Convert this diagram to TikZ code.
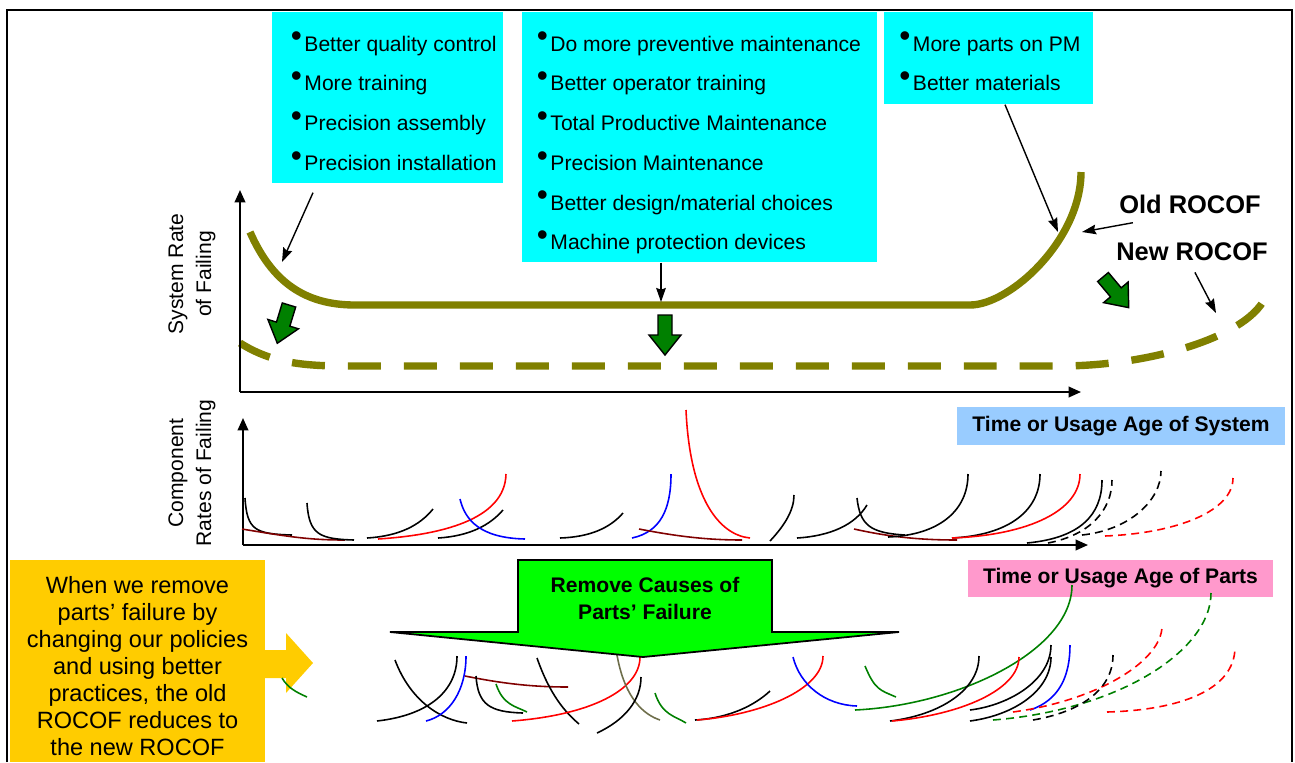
\documentclass[tikz,border=0pt]{standalone}
\usepackage{fontspec}
\setmainfont{Liberation Sans}
\usetikzlibrary{arrows.meta,calc}

\definecolor{boxcyan}{HTML}{00FFFF}
\definecolor{rocof}{HTML}{808000}
\definecolor{sysblue}{HTML}{99CCFF}
\definecolor{partpink}{HTML}{FF99CC}
\definecolor{noteorange}{HTML}{FFCC00}
\definecolor{calloutgreen}{HTML}{00FF00}
\definecolor{dropgreen}{HTML}{008000}
\definecolor{partbrown}{HTML}{800000}
\definecolor{partolive}{HTML}{6E6E4B}

\newcommand{\bul}{\raisebox{0.2em}{\scalebox{1.5}{\textbullet}}\hspace{0.12em}}
% fat green arrow: tail x, tail y, turn
\newcommand{\droparrow}[3]{%
  \begin{scope}[shift={(#1,#2)},rotate=#3]
    \draw[dropfill] (-7,0) -- (-7,20) -- (-16,20) -- (0,40) -- (16,20) -- (7,20) -- (7,0) -- cycle;
  \end{scope}}

\tikzset{
  tipbox/.style={fill=boxcyan, inner sep=0, anchor=north west},
  tipline/.style={font=\fontsize{12}{14}\selectfont, anchor=base west, inner sep=0},
  pointer/.style={-{Stealth[length=8pt,width=5.5pt,inset=1pt]}, line width=0.8pt},
  rocofline/.style={rocof, line width=4.2pt},
  rocoflabel/.style={font=\bfseries\fontsize{14.5}{16}\selectfont, inner sep=0},
  axis/.style={-{Triangle[length=7pt,width=6pt]}, line width=1.1pt},
  axislabel/.style={font=\fontsize{12}{16}\selectfont, align=center, inner sep=0, rotate=90},
  agebox/.style={font=\bfseries\fontsize{12}{14}\selectfont, inner sep=0},
  part/.style={line width=0.9pt},
  partdash/.style={part, dash pattern=on 4.5pt off 3pt},
  dropfill/.style={fill=dropgreen, draw=black, line width=0.8pt},
}

\begin{document}
\begin{tikzpicture}[x=0.02cm, y=-0.02cm]
\useasboundingbox (0,0) rectangle (1295,762);
\draw[line width=1.1pt] (7,762) -- (7,10) -- (1292,10) -- (1292,762);

% what to do, as bullet boxes
\node[tipbox, minimum width=4.62cm, minimum height=3.42cm] (qualbox) at (272,12) {};
\foreach \txt [count=\i] in {Better quality control, More training, Precision assembly, Precision installation}
  \node[tipline] (qual\i) at (290.5,11.5+39.7*\i) {\bul\txt};
\node[tipbox, minimum width=7.10cm, minimum height=5cm] (pmbox) at (522,12) {};
\foreach \txt [count=\i] in {Do more preventive maintenance, Better operator training, Total Productive Maintenance, Precision Maintenance, Better design/material choices, Machine protection devices}
  \node[tipline] (pm\i) at (536.5,11.5+39.7*\i) {\bul\txt};
\node[tipbox, minimum width=4.18cm, minimum height=1.84cm] (matbox) at (884,12) {};
\foreach \txt [count=\i] in {More parts on PM, Better materials}
  \node[tipline] (mat\i) at (899,11.5+39.7*\i) {\bul\txt};

% system curves
\draw[rocofline] (250,232) .. controls (272,282) and (305,305) .. (355,305) -- (970,305)
  .. controls (1010,305) and (1081,240) .. (1081,172);
\draw[rocofline, dash pattern=on 0.66cm off 0.46cm] (240,343) .. controls (270,362) and (300,366) .. (345,366)
  -- (1060,366) .. controls (1160,366) and (1268,330) .. (1268,285);
\droparrow{289}{305}{-17}
\droparrow{665}{315}{0}
\droparrow{1103}{277}{40}

\node[rocoflabel] (oldlbl) at (1190,204) {Old ROCOF};
\node[rocoflabel] (newlbl) at (1192,252) {New ROCOF};
\coordinate (qualtip) at (282,262);
\coordinate (pmtip) at (661,302);
\coordinate (mattip) at (1058,232);
\coordinate (oldtip) at (1082,232);
\coordinate (newtip) at (1216,313);
\draw[pointer] ($(qualbox.south west)+(41,9)$) -- (qualtip);
\draw[pointer] ($(pmbox.south west)+(139,0)$) -- (pmtip);
\draw[pointer] ($(matbox.south west)+(121,0)$) -- (mattip);
\draw[pointer] ($(oldlbl.south west)+(14,9)$) -- (oldtip);
\draw[pointer] ($(newlbl.south west)+(79,11)$) -- (newtip);

\coordinate (sysorigin) at (240,392);
\draw[axis] (sysorigin) -- (240,190);
\draw[axis] (sysorigin) -- (1081,392);
\node[axislabel] (syslbl) at (192,274) {System Rate\\of Failing};

% component curves
\coordinate (comporigin) at (243,545);
\draw[axis] (comporigin) -- (243,418);
\draw[axis] (comporigin) -- (1088,545);
\node[axislabel] (complbl) at (192,473) {Component\\Rates of Failing};
\draw[part] (245,498) .. controls (247,530) and (255,534) .. (292,535);
\draw[part,partbrown] (242,529) .. controls (290,537) and (310,540) .. (345,540);
\draw[part] (307,503) .. controls (309,535) and (320,539) .. (354,540);
\draw[part] (367,538) .. controls (400,536) and (420,525) .. (433,509);
\draw[part,red] (378,539) .. controls (440,535) and (505,520) .. (506,474);
\draw[part] (438,538) .. controls (470,536) and (490,525) .. (503,510);
\draw[part,blue] (460,499) .. controls (465,520) and (480,538) .. (525,539);
\draw[part] (560,538) .. controls (590,537) and (610,528) .. (623,513);
\draw[part,blue] (632,538) .. controls (660,532) and (671,510) .. (671,474);
\draw[part,partbrown] (639,529) .. controls (680,537) and (710,540) .. (742,540);
\draw[part,red] (686,410) .. controls (690,500) and (720,535) .. (750,538);
\draw[part] (770,541) .. controls (785,525) and (794,510) .. (794,495);
\draw[part] (797,538) .. controls (830,536) and (855,525) .. (867,505);
\draw[part] (857,498) .. controls (860,525) and (870,533) .. (905,535);
\draw[part,partbrown] (854,529) .. controls (890,537) and (920,540) .. (957,540);
\draw[part] (888,537) .. controls (940,535) and (968,510) .. (968,474);
\draw[part] (952,538) .. controls (1010,535) and (1040,510) .. (1040,474);
\draw[part,red] (952,538) .. controls (1030,535) and (1080,510) .. (1080,474);
\draw[part] (1027,543) .. controls (1080,538) and (1102,515) .. (1102,480);
\draw[partdash] (1048,543) .. controls (1090,535) and (1112,510) .. (1112,480);
\draw[partdash] (1082,535) .. controls (1130,530) and (1161,500) .. (1161,471);
\draw[partdash,red] (1105,536) .. controls (1180,533) and (1233,510) .. (1233,478);

\node[agebox, fill=sysblue, minimum width=6.56cm, minimum height=0.76cm] (systime) at (1121,426) {Time or Usage Age of System};
\node[agebox, fill=partpink, minimum width=6.1cm, minimum height=0.74cm] (parttime) at (1120.5,578.5) {Time or Usage Age of Parts};

% parts after the causes are removed
\draw[part] (395,660) .. controls (410,700) and (440,720) .. (467,723);
\draw[part] (377,721) .. controls (430,715) and (457,690) .. (457,656);
\draw[part,blue] (426,721) .. controls (450,715) and (466,690) .. (466,656);
\draw[part,partbrown] (465,676) .. controls (500,683) and (530,687) .. (568,687);
\draw[part] (476,676) .. controls (478,705) and (490,712) .. (523,713);
\draw[part,dropgreen] (496,684) .. controls (503,705) and (515,706) .. (527,712);
\draw[part] (537,658) .. controls (550,695) and (565,712) .. (579,724);
\draw[part,red] (512,721) .. controls (590,715) and (640,690) .. (640,657);
\draw[part,partolive] (617,655) .. controls (625,700) and (645,715) .. (660,720);
\draw[part] (597,733) .. controls (625,720) and (641,700) .. (641,677);
\draw[part,dropgreen] (655,693) .. controls (662,715) and (675,716) .. (686,723);
\draw[part] (695,720) .. controls (730,718) and (755,705) .. (770,691);
\draw[part,red] (697,720) .. controls (760,715) and (823,690) .. (823,656);
\draw[part,blue] (793,657) .. controls (800,685) and (825,705) .. (857,706);
\draw[part,dropgreen] (865,666) .. controls (875,690) and (880,690) .. (896,697);
\draw[part,dropgreen] (855,710) .. controls (960,705) and (1072,650) .. (1072,585);
\draw[part] (890,721) .. controls (940,715) and (979,690) .. (979,656);
\draw[part,red] (892,721) .. controls (960,715) and (1019,690) .. (1019,657);
\draw[part] (970,710) .. controls (1010,705) and (1051,680) .. (1051,645);
\draw[part] (970,721) .. controls (1015,715) and (1051,690) .. (1051,657);
\draw[part,blue] (1030,710) .. controls (1060,700) and (1070,675) .. (1070,645);
\draw[partdash,red] (1013,712) .. controls (1100,700) and (1162,660) .. (1162,626);
\draw[partdash,dropgreen] (993,720) .. controls (1120,710) and (1211,650) .. (1211,593);
\draw[partdash] (1033,720) .. controls (1080,712) and (1113,690) .. (1113,655);
\draw[partdash,red] (1107,712) .. controls (1180,710) and (1235,690) .. (1235,647);

\draw[fill=calloutgreen, line width=1pt] (518,560) -- (772,560) -- (772,632) -- (899,632) -- (643,657)
  -- (390,632) -- (518,632) -- cycle;
\node[agebox, align=center, font=\bfseries\fontsize{12}{15.4}\selectfont] (remove) at (645,598) {Remove Causes of\\Parts’ Failure};

\fill[noteorange] (10,560) rectangle (265,762);
\fill[noteorange] (265,650) -- (286,650) -- (286,633) -- (313,663) -- (286,693) -- (286,678) -- (265,678) -- cycle;
\node[align=center, inner sep=0, font=\fontsize{13.4}{15.4}\selectfont] (note) at (137.5,666)
  {When we remove\\parts’ failure by\\changing our policies\\and using better\\practices, the old\\ROCOF reduces to\\the new ROCOF};
\draw[part,dropgreen] (282,678) .. controls (288,688) and (296,692) .. (307,697);
\end{tikzpicture}
\end{document}
